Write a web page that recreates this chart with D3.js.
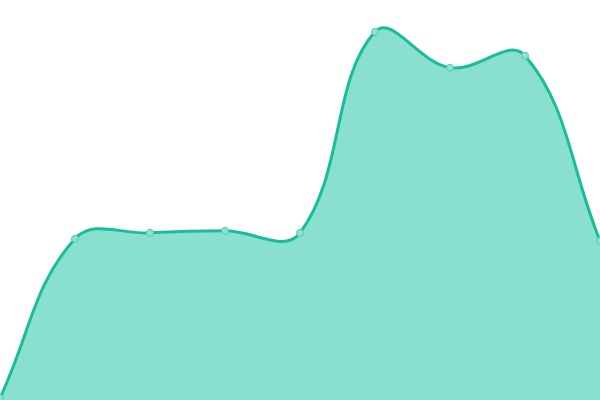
<!DOCTYPE html>
<html>
<head>
<meta charset="utf-8">
<script src="https://cdn.jsdelivr.net/npm/d3@7"></script>
<style>
  html, body { margin: 0; padding: 0; background: #fff; }
  svg { display: block; }
</style>
</head>
<body>
<div id="chart"></div>
<script>
// data
const labels = ["p1", "p2", "p3", "p4", "p5", "p6", "p7", "p8", "p9"];
const values = [0, 40, 41.5, 42, 41.5, 92, 83, 86, 39.5];

const width = 600, height = 400;

// spline with distance weighted control points (tension 0.4)
function Spline(context) { this._context = context; }
Spline.prototype = {
    areaStart() { this._line = 0; },
    areaEnd() { this._line = NaN; },
    lineStart() { this._pts = []; },
    point(px, py) { this._pts.push([+px, +py]); },
    lineEnd() {
        const p = this._pts, n = p.length, c = this._context, t = 0.4;
        if (n) {
            if (this._line) c.lineTo(p[0][0], p[0][1]);
            else c.moveTo(p[0][0], p[0][1]);
            const cp = p.map((cur, i) => {
                const prev = p[Math.max(i - 1, 0)], next = p[Math.min(i + 1, n - 1)];
                const d01 = Math.hypot(cur[0] - prev[0], cur[1] - prev[1]);
                const d12 = Math.hypot(next[0] - cur[0], next[1] - cur[1]);
                let s01 = d01 / (d01 + d12), s12 = d12 / (d01 + d12);
                if (isNaN(s01)) s01 = 0;
                if (isNaN(s12)) s12 = 0;
                const fa = t * s01, fb = t * s12;
                const dx = next[0] - prev[0], dy = next[1] - prev[1];
                const clampX = v => Math.max(0, Math.min(width, v));
                const clampY = v => Math.max(0, Math.min(height, v));
                return {
                    prev: [clampX(cur[0] - fa * dx), clampY(cur[1] - fa * dy)],
                    next: [clampX(cur[0] + fb * dx), clampY(cur[1] + fb * dy)]
                };
            });
            for (let i = 1; i < n; i++) {
                c.bezierCurveTo(cp[i - 1].next[0], cp[i - 1].next[1],
                    cp[i].prev[0], cp[i].prev[1], p[i][0], p[i][1]);
            }
        }
        if (this._line) c.closePath();
        this._line = 1 - this._line;
    }
};
const curve = context => new Spline(context);

const svg = d3.select("#chart")
    .append("svg")
    .attr("width", width)
    .attr("height", height);

const x = d3.scalePoint()
    .domain(labels)
    .range([0, width]);

const y = d3.scaleLinear()
    .domain([0, 100])
    .range([398, 0]);

const area = d3.area()
    .x((d, i) => x(labels[i]))
    .y0(height)
    .y1(d => y(d))
    .curve(curve);

const line = d3.line()
    .x((d, i) => x(labels[i]))
    .y(d => y(d))
    .curve(curve);

svg.append("path")
    .datum(values)
    .attr("d", area)
    .attr("fill", "#89e0cf");

svg.append("path")
    .datum(values)
    .attr("d", line)
    .attr("fill", "none")
    .attr("stroke", "#1abc9c")
    .attr("stroke-width", 3);

svg.selectAll(".dot")
    .data(values)
    .enter()
    .append("circle")
    .attr("class", "dot")
    .attr("cx", (d, i) => x(labels[i]))
    .attr("cy", d => y(d))
    .attr("r", 3.5)
    .attr("fill", "#8de1d0")
    .attr("stroke", "#52cbb3")
    .attr("stroke-width", 1);
</script>
</body>
</html>
